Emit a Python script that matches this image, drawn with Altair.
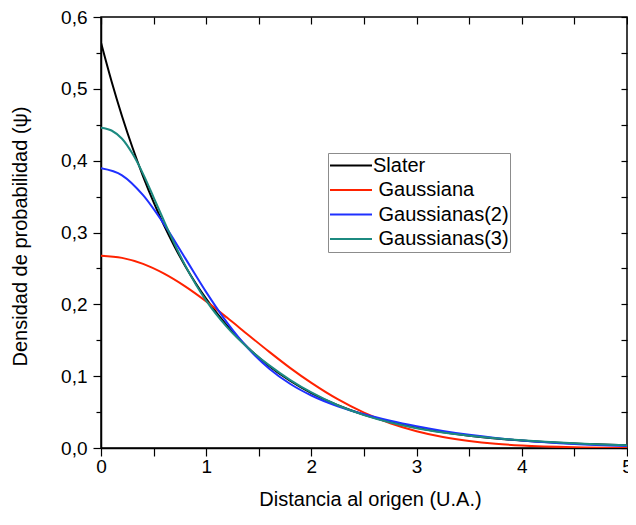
import altair as alt
import pandas as pd

series_names = ["Slater", "Gaussiana", "Gaussianas(2)", "Gaussianas(3)"]
series_colors = ["#000000", "#ff2200", "#1f30ff", "#1c8a80"]

slater_x = [0, 0.1, 0.2, 0.3, 0.4, 0.5, 0.6, 0.7, 0.8, 0.9, 1.0, 1.2, 1.4, 1.6, 1.8, 2.0,
            2.25, 2.5, 2.75, 3.0, 3.5, 4.0, 4.5, 5.0]
slater_y = [0.5642, 0.5105, 0.4619, 0.4180, 0.3782, 0.3422, 0.3096, 0.2802, 0.2535, 0.2294,
            0.2076, 0.1699, 0.1391, 0.1139, 0.0933, 0.0764, 0.0595, 0.0463, 0.0361, 0.0281,
            0.0170, 0.0103, 0.0063, 0.0038]

g1_x = [0, 0.2, 0.4, 0.6, 0.8, 1.0, 1.2, 1.4, 1.6, 1.8, 2.0, 2.25, 2.5, 2.75, 3.0, 3.25,
        3.5, 3.75, 4.0, 4.5, 5.0]
g1_y = [0.2676, 0.2647, 0.2563, 0.2427, 0.2250, 0.2041, 0.1812, 0.1574, 0.1338, 0.1112,
        0.0906, 0.0679, 0.0492, 0.0345, 0.0234, 0.0153, 0.0097, 0.0059, 0.0035, 0.0011, 0.0003]

g2_x = [0, 0.2, 0.4, 0.6, 0.8, 1.0, 1.2, 1.4, 1.6, 1.8, 2.0, 2.25, 2.5, 2.75, 3.0, 3.25,
        3.5, 3.75, 4.0, 4.5, 5.0]
g2_y = [0.3894, 0.3796, 0.3519, 0.3113, 0.2643, 0.2170, 0.1742, 0.1385, 0.1104, 0.0891,
        0.0731, 0.0582, 0.0469, 0.0378, 0.0302, 0.0237, 0.0183, 0.0139, 0.0104, 0.0055, 0.0027]

g3_x = [0, 0.1, 0.2, 0.3, 0.4, 0.5, 0.6, 0.7, 0.8, 0.9, 1.0, 1.2, 1.4, 1.6, 1.8, 2.0,
        2.25, 2.5, 2.75, 3.0, 3.25, 3.5, 3.75, 4.0, 4.5, 5.0]
g3_y = [0.446, 0.442, 0.4305, 0.4095, 0.3816, 0.3490, 0.3157, 0.2836, 0.2542, 0.2280,
        0.2051, 0.1679, 0.1389, 0.1150, 0.0946, 0.0773, 0.0595, 0.0458, 0.0354, 0.0275,
        0.0216, 0.0171, 0.0135, 0.0107, 0.0066, 0.0039]

x_ticks = [0, 0.5, 1, 1.5, 2, 2.5, 3, 3.5, 4, 4.5, 5]
y_ticks = [0, 0.05, 0.1, 0.15, 0.2, 0.25, 0.3, 0.35, 0.4, 0.45, 0.5, 0.55, 0.6]

rows = []
for name, xs, ys in [("Slater", slater_x, slater_y), ("Gaussiana", g1_x, g1_y),
                     ("Gaussianas(2)", g2_x, g2_y), ("Gaussianas(3)", g3_x, g3_y)]:
    for a, b in zip(xs, ys):
        rows.append({"series": name, "x": a, "y": b})
df = pd.DataFrame(rows)

FONT = "Liberation Sans"
xscale = alt.Scale(domain=[0, 5], nice=False, zero=False)
yscale = alt.Scale(domain=[0, 0.6], nice=False, zero=False)

major_y = "abs(datum.value*10 - round(datum.value*10)) < 0.000001"

lines = alt.Chart(df).mark_line(strokeWidth=2, interpolate="monotone", clip=True).encode(
    x=alt.X("x:Q", scale=xscale, axis=alt.Axis(
        orient="bottom", values=x_ticks, grid=False, labelFlush=False,
        labelExpr="datum.value % 1 == 0 ? format(datum.value, 'd') : ''",
        title="Distancia al origen (U.A.)", titleX=269, titleY=57,
        titleBaseline="alphabetic", tickSize=8, labelPadding=1,
        labelFontSize=19, titleFontSize=20)),
    y=alt.Y("y:Q", scale=yscale, axis=alt.Axis(
        orient="left", values=y_ticks, grid=False,
        labelExpr=major_y + " ? replace(format(datum.value, '.1f'), '.', ',') : ''",
        title="Densidad de probabilidad (ψ)", titleX=-75, titleY=219,
        titleBaseline="alphabetic", titleAngle=270,
        tickSize={"condition": {"test": major_y, "value": 8}, "value": 5},
        labelPadding=6, labelFontSize=19, titleFontSize=20)),
    color=alt.Color("series:N", sort=series_names,
                    scale=alt.Scale(domain=series_names, range=series_colors),
                    legend=alt.Legend(
                        orient="none", legendX=227, legendY=136, title=None,
                        symbolType="stroke", symbolSize=1764, symbolStrokeWidth=2,
                        clipHeight=23, rowPadding=1.5, padding=1,
                        strokeColor="#8c8c8c", fillColor="white",
                        labelFont=FONT, labelFontSize=20, labelOffset=0,
                        labelColor="black", labelLimit=300, symbolOffset=0,
                        labelExpr="datum.label == 'Slater' ? datum.label : '\u200b\u00a0' + datum.label")),
)

mirror = alt.Chart(df).mark_line(opacity=0).encode(
    x=alt.X("x:Q", scale=xscale, axis=alt.Axis(
        orient="top", values=x_ticks, labels=False, domain=False, grid=False,
        tickSize=7, offset=-7, title=None)),
    y=alt.Y("y:Q", scale=yscale, axis=alt.Axis(
        orient="right", values=y_ticks, labels=False, domain=False, grid=False,
        tickSize=6, offset=-6, title=None)),
)

chart = alt.layer(lines, mirror).resolve_axis(x="independent", y="independent").properties(
    width=526, height=431,
    autosize=alt.AutoSizeParams(type="none"),
    padding={"left": 93, "top": 9, "right": 1, "bottom": 64},
).configure_view(stroke="black", strokeWidth=1.5).configure_axis(
    labelFont=FONT, titleFont=FONT, labelColor="black", titleColor="black",
    titleFontWeight="normal", domainColor="black", domainWidth=1.5,
    tickColor="black", tickWidth=1.2,
)

chart.save("out.html", embed_options={"renderer": "svg", "actions": False})
